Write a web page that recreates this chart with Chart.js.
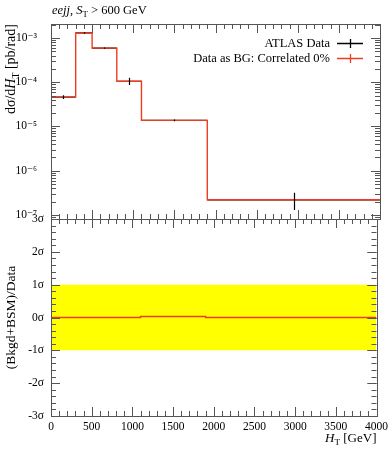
<!DOCTYPE html>
<html>
<head>
<meta charset="utf-8">
<script src="https://cdn.jsdelivr.net/npm/chart.js@4.4.0/dist/chart.umd.min.js"></script>
<style>
html, body { margin: 0; padding: 0; background: #fff; }
#wrap { position: relative; width: 392px; height: 450px; }
#wrap canvas { position: absolute; left: 0; }
#main-chart { top: 0; }
#ratio-chart { top: 200px; }
</style>
</head>
<body>
<div id="wrap">
  <canvas id="main-chart" width="392" height="235"></canvas>
  <canvas id="ratio-chart" width="392" height="250"></canvas>
</div>
<script>
// bins and values
var binEdges   = [0, 300, 500, 800, 1100, 1900, 4000];
var atlasData  = [4.6e-5, 1.3e-3, 5.9e-4, 1.05e-4, 1.37e-5, 2.2e-7];
var atlasUp    = [0.5e-5, 0.05e-3, 0.2e-4, 0.22e-4, 0.06e-5, 0.96e-7];
var atlasDown  = [0.45e-5, 0.05e-3, 0.2e-4, 0.18e-4, 0.06e-5, 0.9e-7];
var bgPred     = [4.6e-5, 1.3e-3, 5.9e-4, 1.05e-4, 1.37e-5, 2.2e-7];
var pullVals   = [0, 0, 0, 0, 0.03, 0];
var sigmaBand  = [-1, 1];

var logTicks      = [1e-7, 1e-6, 1e-5, 1e-4, 1e-3];
var logTickLabels = ['10⁻⁷', '10⁻⁶', '10⁻⁵', '10⁻⁴', '10⁻³'];
var sigmaTicks    = [-3, -2, -1, 0, 1, 2, 3];
var sigmaLabels   = ['-3σ', '-2σ', '-1σ', '0σ', '1σ', '2σ', '3σ'];
var xMajor = [0, 500, 1000, 1500, 2000, 2500, 3000, 3500, 4000];

var RED = '#ee3c20';
var SERIF = "'Liberation Serif', 'DejaVu Serif', serif";
Chart.defaults.font.family = SERIF;
Chart.defaults.color = '#000';

var xMinor = [];
for (var v = 0; v <= 4000; v += 100) xMinor.push(v);
var logMinor = [];
[1e-8, 1e-7, 1e-6, 1e-5, 1e-4, 1e-3].forEach(function (d) {
    for (var k = 2; k <= 9; k++) logMinor.push(k * d);
});
var sigMinor = [];
for (var s = -15; s <= 15; s++) sigMinor.push(s / 5);

stepPoints = (vals) => {
    var pts = vals.map(function (y, i) { return { x: binEdges[i], y: y }; });
    pts.push({ x: binEdges[binEdges.length - 1], y: vals[vals.length - 1] });
    return pts;
};

// draws text with sub parts: parts = [[text, style]] style: '' | 'i' | 'sub'
drawRich = (ctx, parts, x, y, align, size) => {
    var fontOf = function (p) {
        if (p[1] === 'sub') return (size * 0.7) + 'px ' + SERIF;
        if (p[1] === 'i') return 'italic ' + size + 'px ' + SERIF;
        return size + 'px ' + SERIF;
    };
    var w = 0;
    parts.forEach(function (p) { ctx.font = fontOf(p); w += ctx.measureText(p[0]).width; });
    var cx = align === 'right' ? x - w : (align === 'center' ? x - w / 2 : x);
    ctx.textAlign = 'left';
    ctx.textBaseline = 'alphabetic';
    parts.forEach(function (p) {
        ctx.font = fontOf(p);
        ctx.fillText(p[0], cx, p[1] === 'sub' ? y + size * 0.25 : y);
        cx += ctx.measureText(p[0]).width;
    });
};

// fixed axis box: no extra label padding
fixAxis = (s) => {
    s.width = 51;
    s.paddingTop = 0;
    s.paddingBottom = 0;
};

var frameTicks = {
    id: 'frameTicks',
    afterDraw: function (chart, args, opts) {
        var ctx = chart.ctx, a = chart.chartArea, xs = chart.scales.x, ys = chart.scales.y;
        ctx.save();
        ctx.strokeStyle = '#555';
        ctx.lineWidth = 1;
        ctx.beginPath();
        opts.xMinor.forEach(function (v) {
            var px = Math.round(xs.getPixelForValue(v)) + 0.5;
            var len = opts.xMajor.indexOf(v) >= 0 ? 9 : 5;
            ctx.moveTo(px, a.top); ctx.lineTo(px, a.top + len);
            ctx.moveTo(px, a.bottom); ctx.lineTo(px, a.bottom - len);
        });
        opts.yMinor.concat(opts.yMajor).forEach(function (v) {
            if (v < ys.min || v > ys.max) return;
            var py = Math.round(ys.getPixelForValue(v)) + 0.5;
            var len = opts.yMajor.indexOf(v) >= 0 ? 9 : 5;
            ctx.moveTo(a.left, py); ctx.lineTo(a.left + len, py);
            ctx.moveTo(a.right, py); ctx.lineTo(a.right - len, py);
        });
        ctx.stroke();
        ctx.strokeRect(Math.round(a.left) + 0.5, Math.round(a.top) + 0.5,
            Math.round(a.right - a.left), Math.round(a.bottom - a.top));
        ctx.restore();
    }
};

var errorBars = {
    id: 'errorBars',
    beforeDatasetsDraw: function (chart) {
        var ctx = chart.ctx, xs = chart.scales.x, ys = chart.scales.y;
        ctx.save();
        ctx.strokeStyle = '#000';
        ctx.lineWidth = 1.2;
        ctx.beginPath();
        atlasData.forEach(function (v, i) {
            var py = ys.getPixelForValue(v);
            ctx.moveTo(xs.getPixelForValue(binEdges[i]), py);
            ctx.lineTo(xs.getPixelForValue(binEdges[i + 1]), py);
        });
        ctx.stroke();
        ctx.restore();
    },
    afterDatasetsDraw: function (chart) {
        var ctx = chart.ctx, xs = chart.scales.x, ys = chart.scales.y;
        ctx.save();
        ctx.strokeStyle = '#000';
        ctx.lineWidth = 1.2;
        ctx.beginPath();
        atlasData.forEach(function (v, i) {
            var px = Math.round(xs.getPixelForValue((binEdges[i] + binEdges[i + 1]) / 2)) + 0.5;
            ctx.moveTo(px, ys.getPixelForValue(v + atlasUp[i]));
            ctx.lineTo(px, ys.getPixelForValue(v - atlasDown[i]));
        });
        ctx.stroke();
        ctx.restore();
    }
};

var mainText = {
    id: 'mainText',
    afterDraw: function (chart) {
        var ctx = chart.ctx, a = chart.chartArea;
        ctx.save();
        ctx.fillStyle = '#000';
        drawRich(ctx, [['eejj', 'i'], [', ', ''], ['S', 'i'], ['T', 'sub'], [' > 600 GeV', '']], a.left + 1, 14, 'left', 12.5);
        // legend
        var items = [['ATLAS Data', '#000'], ['Data as BG: Correlated 0%', RED]];
        items.forEach(function (it, i) {
            var y = 43 + i * 15;
            ctx.fillStyle = '#000';
            drawRich(ctx, [[it[0], '']], 330, y + 4, 'right', 12.5);
            ctx.strokeStyle = it[1];
            ctx.lineWidth = 1.3;
            ctx.beginPath();
            ctx.moveTo(337, y + 0.5); ctx.lineTo(363, y + 0.5);
            ctx.moveTo(350.5, y - 4); ctx.lineTo(350.5, y + 5);
            ctx.stroke();
        });
        // y title
        ctx.translate(15, a.top);
        ctx.rotate(-Math.PI / 2);
        ctx.fillStyle = '#000';
        drawRich(ctx, [['dσ/d', ''], ['H', 'i'], ['T', 'sub'], [' [pb/rad]', '']], 0, 0, 'right', 14);
        ctx.restore();
    }
};

var ratioText = {
    id: 'ratioText',
    afterDraw: function (chart) {
        var ctx = chart.ctx, a = chart.chartArea;
        ctx.save();
        ctx.fillStyle = '#000';
        drawRich(ctx, [['H', 'i'], ['T', 'sub'], [' [GeV]', '']], a.right, 242, 'right', 13);
        ctx.translate(15, chart.scales.y.getPixelForValue(0));
        ctx.rotate(-Math.PI / 2);
        drawRich(ctx, [['(Bkgd+BSM)/Data', '']], 0, 0, 'center', 13.5);
        ctx.restore();
    }
};

drawMainChart = () => {
    new Chart(document.getElementById('main-chart'), {
        type: 'line',
        data: {
            datasets: [{
                label: 'Data as BG: Correlated 0%',
                data: stepPoints(bgPred),
                borderColor: RED,
                borderWidth: 1.4,
                pointRadius: 0,
                stepped: 'before',
                fill: false
            }]
        },
        options: {
            animation: false,
            responsive: false,
            devicePixelRatio: 1,
            layout: { padding: { top: 24, right: 12, bottom: 16, left: 0 } },
            plugins: {
                legend: { display: false },
                tooltip: { enabled: false },
                frameTicks: { xMinor: xMinor, xMajor: xMajor, yMinor: logMinor, yMajor: logTicks }
            },
            scales: {
                x: { type: 'linear', min: 0, max: 4000, display: false },
                y: {
                    type: 'logarithmic',
                    min: 8.1e-8, max: 2.07e-3,
                    grid: { display: false, drawTicks: false },
                    border: { display: false },
                    afterBuildTicks: function (s) { s.ticks = logTicks.map(function (v) { return { value: v }; }); },
                    afterFit: fixAxis,
                    ticks: {
                        padding: 14,
                        font: { size: 11.5 },
                        callback: function (v) { return logTickLabels[logTicks.indexOf(v)]; }
                    }
                }
            }
        },
        plugins: [errorBars, frameTicks, mainText]
    });
};

drawRatioChart = () => {
    new Chart(document.getElementById('ratio-chart'), {
        type: 'line',
        data: {
            datasets: [{
                label: 'pull',
                data: stepPoints(pullVals),
                borderColor: RED,
                borderWidth: 1.4,
                pointRadius: 0,
                stepped: 'before',
                fill: false
            }, {
                label: 'band hi',
                data: [{ x: 0, y: sigmaBand[1] }, { x: 4000, y: sigmaBand[1] }],
                borderWidth: 0,
                pointRadius: 0,
                backgroundColor: '#ffff00',
                fill: '+1'
            }, {
                label: 'band lo',
                data: [{ x: 0, y: sigmaBand[0] }, { x: 4000, y: sigmaBand[0] }],
                borderWidth: 0,
                pointRadius: 0,
                fill: false
            }]
        },
        options: {
            animation: false,
            responsive: false,
            devicePixelRatio: 1,
            layout: { padding: { top: 19, right: 12, bottom: 0, left: 0 } },
            plugins: {
                legend: { display: false },
                tooltip: { enabled: false },
                frameTicks: { xMinor: xMinor, xMajor: xMajor, yMinor: sigMinor, yMajor: sigmaTicks }
            },
            scales: {
                x: {
                    type: 'linear', min: 0, max: 4000,
                    grid: { display: false, drawTicks: false },
                    border: { display: false },
                    afterBuildTicks: function (s) { s.ticks = xMajor.map(function (v) { return { value: v }; }); },
                    afterFit: function (s) { s.height = 34; },
                    ticks: {
                        padding: 4, maxRotation: 0, autoSkip: false, font: { size: 11.5 },
                        callback: function (v) { return String(v); }
                    }
                },
                y: {
                    type: 'linear', min: -3, max: 3,
                    grid: { display: false, drawTicks: false },
                    border: { display: false },
                    afterBuildTicks: function (s) { s.ticks = sigmaTicks.map(function (v) { return { value: v }; }); },
                    afterFit: fixAxis,
                    ticks: {
                        padding: 7,
                        font: { size: 11.5 },
                        callback: function (v) { return sigmaLabels[sigmaTicks.indexOf(v)]; }
                    }
                }
            }
        },
        plugins: [frameTicks, ratioText]
    });
};

(function () {
    drawMainChart();
    drawRatioChart();
}());
</script>
</body>
</html>
